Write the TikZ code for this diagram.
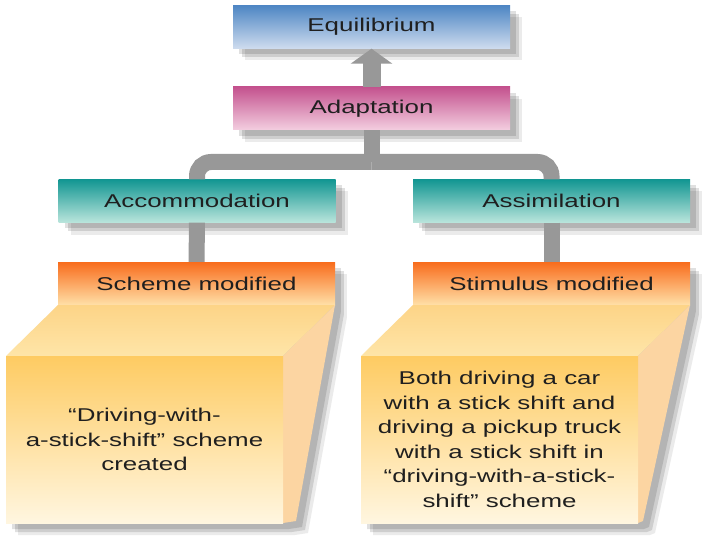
\documentclass[tikz,border=0pt]{standalone}
\usepackage{fontspec}
\setmainfont{Liberation Sans}[FakeStretch=1.4]
\usepackage{xcolor}
\usepackage{tikz}
\usetikzlibrary{shadows}
\usetikzlibrary{arrows.meta}
\definecolor{equiltop}{RGB}{78,134,196}
\definecolor{equilbot}{RGB}{206,220,238}
\definecolor{adapttop}{RGB}{196,82,142}
\definecolor{adaptbot}{RGB}{243,206,224}
\definecolor{tealtop}{RGB}{18,150,146}
\definecolor{tealbot}{RGB}{186,229,220}
\definecolor{orangetop}{RGB}{248,108,28}
\definecolor{orangebot}{RGB}{255,224,168}
\definecolor{facetop}{RGB}{254,203,98}
\definecolor{facebot}{RGB}{255,246,224}
\definecolor{lidtop}{RGB}{253,212,135}
\definecolor{lidbot}{RGB}{254,229,168}
\definecolor{sidecol}{RGB}{252,213,162}
\definecolor{linkgray}{RGB}{152,152,152}
\tikzset{ soft_shadow/.style = {drop shadow={shadow xshift=12pt, shadow yshift=-12pt, fill=black, opacity=.08},
                                drop shadow={shadow xshift=9pt, shadow yshift=-9pt, fill=black, opacity=.12},
                                drop shadow={shadow xshift=6pt, shadow yshift=-6pt, fill=black, opacity=.12}} }
\tikzset{ stage_box/.style = {rectangle, minimum width=277pt, minimum height=43pt, inner sep=0pt,
                              font=\fontsize{18.5}{24.5}\selectfont, text=black!88, soft_shadow} }
\tikzset{ face_box/.style = {rectangle, minimum width=277pt, minimum height=167pt, inner sep=0pt, align=center,
                             top color=facetop, bottom color=facebot, font=\fontsize{18.5}{24.5}\selectfont, text=black!88} }
\tikzset{ link_line/.style = {draw=linkgray, line width=16pt} }
\tikzset{ up_arrow/.style = {draw=linkgray, line width=18pt, -{Triangle[width=41pt,length=15pt]}} }

\begin{document}
\begin{tikzpicture}[x=1pt,y=-1pt]
    \useasboundingbox[fill=white] (0,0) rectangle (720,540);
    % upper stages
    \node[stage_box, top color=equiltop, bottom color=equilbot] (equil) at (371.5,27) {Equilibrium};
    \node[stage_box, top color=adapttop, bottom color=adaptbot] (adapt) at (371.5,108.5) {Adaptation};
    \node[stage_box, top color=tealtop, bottom color=tealbot] (accom) at (197,201) {Accommodation};
    \node[stage_box, top color=tealtop, bottom color=tealbot] (assim) at (551.5,201) {Assimilation};
    % left block
    \foreach \d/\o in {12/.08,9/.12,6/.12}
        \fill[black, opacity=\o, shift={(\d,\d)}] (58,305) -- (335,305) -- (296,521) -- (283,523) -- (6,523) -- (6,356) -- cycle;
    \node[stage_box, top color=orangetop, bottom color=orangebot] (schememod) at (196.5,283.5) {Scheme modified};
    \shade[top color=lidtop, bottom color=lidbot] (58,305) -- (335,305) -- (283,356) -- (6,356) -- cycle;
    \fill[sidecol] (335,305) -- (283,356) -- (283,523) -- (296,521) -- cycle;
    \node[face_box] (drivenew) at (144.5,439.5) {“Driving-with-\\a-stick-shift” scheme\\created};
    % right block
    \foreach \d/\o in {12/.08,9/.12,6/.12}
        \fill[black, opacity=\o, shift={(\d,\d)}] (413,305) -- (690,305) -- (643,521) -- (638,523) -- (361,523) -- (361,356) -- cycle;
    \node[stage_box, top color=orangetop, bottom color=orangebot] (stimmod) at (551.5,283.5) {Stimulus modified};
    \shade[top color=lidtop, bottom color=lidbot] (413,305) -- (690,305) -- (638,356) -- (361,356) -- cycle;
    \fill[sidecol] (690,305) -- (638,356) -- (638,523) -- (643,521) -- cycle;
    \node[face_box] (driveboth) at (499.5,439.5) {Both driving a car\\with a stick shift and\\driving a pickup truck\\with a stick shift in\\“driving-with-a-stick-\\shift” scheme};
    % connectors
    \coordinate (fork) at (371.5,162);
    \draw[up_arrow] (adapt) -- (equil);
    \draw[link_line] (adapt) -- (fork);
    \draw[link_line, rounded corners=14pt] (fork) -| (accom);
    \draw[link_line, rounded corners=14pt] (fork) -| (assim);
    \draw[link_line] (accom) -- (schememod);
    \draw[link_line] (assim) -- (stimmod);
\end{tikzpicture}
\end{document}
